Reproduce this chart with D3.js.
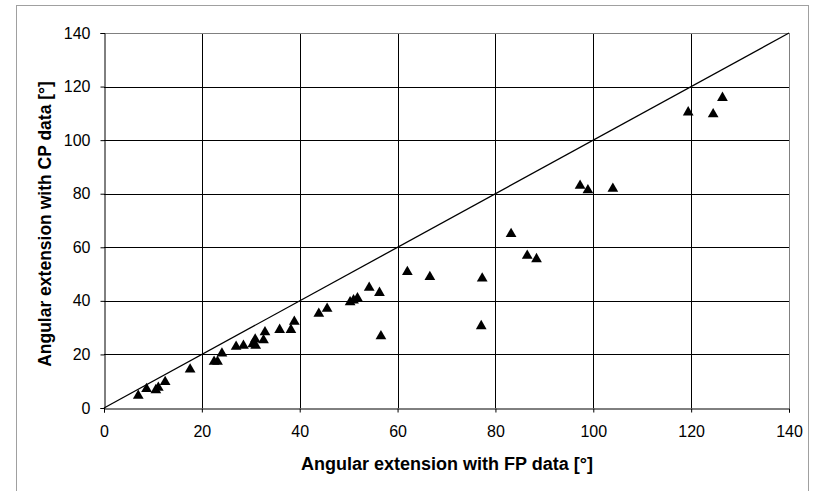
<!DOCTYPE html>
<html><head><meta charset="utf-8">
<script src="https://cdn.jsdelivr.net/npm/d3@7"></script>
<style>body{margin:0;background:#fff}svg{display:block}text{font-family:"Liberation Sans",Arial,sans-serif}</style>
</head><body><svg id="c" width="816" height="491"></svg>
<script>
const fpData = [7.0,8.7,10.6,11.1,12.5,17.6,22.5,23.2,24.1,27.0,28.5,30.4,31.0,30.9,32.6,32.9,35.9,38.2,38.9,43.9,45.6,50.3,51.0,51.8,54.2,56.3,56.6,62.0,66.6,77.3,77.1,86.5,88.4,83.2,97.3,98.9,104.0,119.4,124.5,126.4];
const cpData = [4.6,7.1,6.7,7.6,9.7,14.4,17.3,17.3,20.4,22.9,23.3,23.8,23.3,25.6,25.3,28.3,29.2,29.2,32.2,35.2,37.1,39.5,40.2,41.0,44.9,43.0,26.8,50.8,48.9,48.4,30.6,56.9,55.6,65.0,83.0,81.3,81.9,110.4,109.7,115.8];
const xTicks = [0,20,40,60,80,100,120,140];
const yTicks = [0,20,40,60,80,100,120,140];
const xLabel = "Angular extension with FP data [°]";
const yLabel = "Angular extension with CP data [°]";

const svg = d3.select("#c");
const L = 104, R = 789, T = 33, B = 408;
const x = d3.scaleLinear().domain([0,140]).range([L,R]);
const y = d3.scaleLinear().domain([0,140]).range([B,T]);

svg.append("rect").attr("x",16.5).attr("y",5.5).attr("width",792).attr("height",500)
  .attr("fill","none").attr("stroke","#a0a0a0");

const g = svg.append("g");
g.selectAll(".vg").data(xTicks.slice(1)).join("line")
  .attr("x1",d=>Math.round(x(d))+0.5).attr("x2",d=>Math.round(x(d))+0.5)
  .attr("y1",T).attr("y2",B).attr("stroke",d=>d===140?"#808080":"#000").attr("stroke-width",1);
g.selectAll(".hg").data(yTicks.slice(1)).join("line")
  .attr("y1",d=>Math.round(y(d))+0.5).attr("y2",d=>Math.round(y(d))+0.5)
  .attr("x1",L).attr("x2",R).attr("stroke",d=>d===140?"#808080":"#000").attr("stroke-width",1);

const xa = svg.append("g").attr("transform",`translate(0,${B+0.5})`)
  .call(d3.axisBottom(x).tickValues(xTicks).tickSize(4).tickPadding(13).tickFormat(d3.format("d")));
const ya = svg.append("g").attr("transform",`translate(${L+0.5},0)`)
  .call(d3.axisLeft(y).tickValues(yTicks).tickSize(4).tickPadding(10).tickFormat(d3.format("d")));
[xa,ya].forEach(a=>{
  a.select(".domain").attr("stroke","#000");
  a.selectAll(".tick line").attr("stroke","#000");
  a.selectAll("text").attr("font-size",16).attr("fill","#000").attr("font-family","Liberation Sans, Arial, sans-serif");
});

svg.append("line").attr("x1",x(0)).attr("y1",y(0)).attr("x2",x(140)).attr("y2",y(140))
  .attr("stroke","#000").attr("stroke-width",1.3);

const pts = fpData.map((v,i)=>({fp:v,cp:cpData[i]}));
const tri = d3.symbol().type(d3.symbolTriangle).size(50);
svg.selectAll(".pt").data(pts).join("path")
  .attr("d",tri).attr("transform",d=>`translate(${x(d.fp)},${y(d.cp)})`)
  .attr("fill","#000");

svg.append("text").attr("x",447).attr("y",470).attr("text-anchor","middle")
  .attr("font-size",18).attr("font-weight","bold").text(xLabel);
svg.append("text").attr("transform",`translate(51,224) rotate(-90)`).attr("text-anchor","middle")
  .attr("font-size",17.5).attr("font-weight","bold").text(yLabel);
</script></body></html>
